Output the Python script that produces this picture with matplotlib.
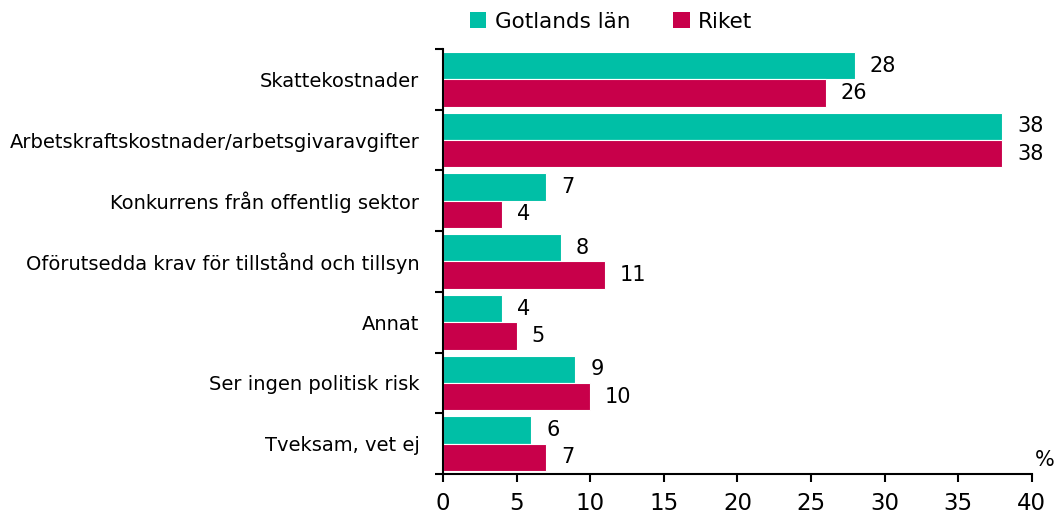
import matplotlib
matplotlib.use("Agg")
import matplotlib.pyplot as plt
import numpy as np
from matplotlib.patches import Patch

categories = ["Skattekostnader", "Arbetskraftskostnader/arbetsgivaravgifter",
              "Konkurrens från offentlig sektor", "Oförutsedda krav för tillstånd och tillsyn",
              "Annat", "Ser ingen politisk risk", "Tveksam, vet ej"]
gotland = [28, 38, 7, 8, 4, 9, 6]
riket = [26, 38, 4, 11, 5, 10, 7]
series_names = ["Gotlands län", "Riket"]
xticks = [0, 5, 10, 15, 20, 25, 30, 35, 40]

teal = "#00BFA6"
crimson = "#C8004A"

plt.rcParams['font.family'] = ['DejaVu Sans']
fig = plt.figure(figsize=(10.54, 5.15), dpi=100)
ax = fig.add_axes([0.4203, 0.0796, 0.979 - 0.4203, 0.905 - 0.0796])

n = len(categories)
y = np.arange(n)
h = 0.45
ax.barh(y - h / 2, gotland, height=h, color=teal, edgecolor="white", linewidth=0.8)
ax.barh(y + h / 2, riket, height=h, color=crimson, edgecolor="white", linewidth=0.8)

for i in range(n):
    ax.text(gotland[i] + 1.0, y[i] - h / 2, str(gotland[i]), va="center", ha="left", fontsize=15)
    ax.text(riket[i] + 1.0, y[i] + h / 2, str(riket[i]), va="center", ha="left", fontsize=15)

ax.set_ylim(n - 0.5, -0.5)
ax.set_xlim(0, 40)
ax.set_xticks(xticks)
ax.set_xticklabels([str(t) for t in xticks], fontsize=16.5)
ax.set_yticks(np.arange(-0.5, n, 1.0))
ax.set_yticklabels([])
ax.set_yticks(y, minor=True)
ax.set_yticklabels(categories, minor=True, fontsize=14)
ax.tick_params(axis="y", which="minor", length=0, pad=17)
ax.tick_params(axis="y", which="major", length=6, width=1.5, direction="out")
ax.tick_params(axis="x", length=6, width=1.5, direction="out", pad=7)
for s in ["top", "right"]:
    ax.spines[s].set_visible(False)
ax.spines["left"].set_linewidth(1.5)
ax.spines["bottom"].set_linewidth(1.5)

ax.text(1.005, 0.01, "%", transform=ax.transAxes, ha="left", va="bottom", fontsize=15)

handles = [Patch(facecolor=teal), Patch(facecolor=crimson)]
fig.legend(handles, series_names, loc="upper center", bbox_to_anchor=(0.58, 1.015), ncol=2,
           frameon=False, fontsize=15.5, handlelength=0.75, handleheight=0.75, columnspacing=2.0,
           handletextpad=0.4)

fig.savefig("out.png", dpi=100)
